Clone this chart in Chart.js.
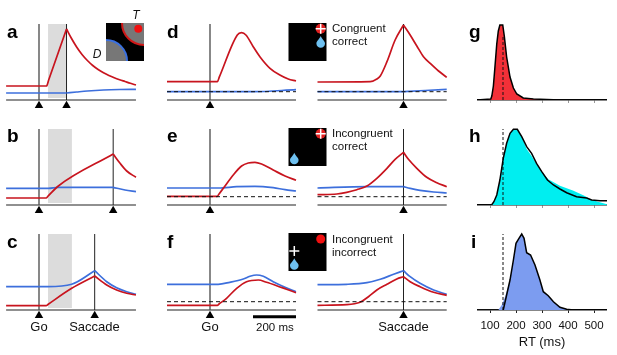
<!DOCTYPE html>
<html>
<head>
<meta charset="utf-8">
<title>Reaction time panels</title>
<script src="https://cdn.jsdelivr.net/npm/chart.js@4"></script>
<style>
  html, body { margin: 0; padding: 0; background: #fff; }
  #fig { position: relative; width: 617px; height: 355px; overflow: hidden; font-family: "Liberation Sans", Arial, sans-serif; color: #111; }
  #fig canvas { position: absolute; }
  #fig svg { position: absolute; left: 0; top: 0; }
  .t { position: absolute; white-space: nowrap; line-height: 14px; }
  .p { font-weight: bold; font-size: 19px; line-height: 20px; color: #000; }
  .s { font-size: 11.5px; }
  .m { font-size: 13px; transform: translateX(-50%); }
</style>
</head>
<body>
<div id="fig">
  <div class="t p" style="left:7px;top:22px">a</div>
  <div class="t p" style="left:7px;top:126px">b</div>
  <div class="t p" style="left:7px;top:232px">c</div>
  <div class="t p" style="left:167px;top:22px">d</div>
  <div class="t p" style="left:167px;top:126px">e</div>
  <div class="t p" style="left:167px;top:232px">f</div>
  <div class="t p" style="left:469px;top:22px">g</div>
  <div class="t p" style="left:469px;top:126px">h</div>
  <div class="t p" style="left:471px;top:232px">i</div>

  <div class="t m" style="left:136px;top:8px;font-style:italic;font-size:12px">T</div>
  <div class="t m" style="left:97px;top:47px;font-style:italic;font-size:12px">D</div>

  <div class="t s" style="left:332px;top:21px">Congruent</div>
  <div class="t s" style="left:332px;top:34px">correct</div>
  <div class="t s" style="left:332px;top:126px">Incongruent</div>
  <div class="t s" style="left:332px;top:139px">correct</div>
  <div class="t s" style="left:332px;top:232px">Incongruent</div>
  <div class="t s" style="left:332px;top:245px">incorrect</div>

  <div class="t m" style="left:39px;top:320px">Go</div>
  <div class="t m" style="left:94.500px;top:320px">Saccade</div>
  <div class="t m" style="left:210px;top:320px">Go</div>
  <div class="t m" style="left:403.500px;top:320px">Saccade</div>
  <div class="t s" style="left:256px;top:320px">200 ms</div>
  <div class="t m" style="left:542px;top:335px">RT (ms)</div>

  <svg width="617" height="355" xmlns="http://www.w3.org/2000/svg">
    <defs><clipPath id="insetA"><rect x="106" y="23" width="38" height="38"/></clipPath></defs>
    <rect x="106" y="23" width="38" height="38" fill="#000"/>
    <g clip-path="url(#insetA)">
      <circle cx="144" cy="23" r="22" fill="#777" stroke="#d01818" stroke-width="2"/>
      <circle cx="106" cy="61" r="21" fill="#777" stroke="#3a70e0" stroke-width="2"/>
    </g>
    <circle cx="138.300" cy="28.700" r="4" fill="#f01010"/>

    <rect x="288.500" y="23" width="38" height="38" fill="#000"/>
    <circle cx="320.700" cy="28.700" r="5" fill="#e02020"/>
    <path d="M315.700 28.700H325.700M320.700 23.700V33.700" stroke="#fff" stroke-width="1.500"/>
    <path d="M320.700 36C321.700 39 325 41 325 43.400A4.300 4.300 0 1 1 316.400 43.400C316.400 41 319.700 39 320.700 36Z" fill="#6ec0f0"/>

    <rect x="288.500" y="128" width="38" height="38" fill="#000"/>
    <circle cx="320.700" cy="133.700" r="5" fill="#e02020"/>
    <path d="M315.700 133.700H325.700M320.700 128.700V138.700" stroke="#fff" stroke-width="1.500"/>
    <path d="M294.300 152.700C295.300 155.700 298.600 157.700 298.600 160A4.300 4.300 0 1 1 290 160C290 157.700 293.300 155.700 294.300 152.700Z" fill="#6ec0f0"/>

    <rect x="288.500" y="233" width="38" height="38" fill="#000"/>
    <circle cx="320.700" cy="239" r="4.500" fill="#f01010"/>
    <path d="M289.300 251H299.300M294.300 246V256" stroke="#fff" stroke-width="1.500"/>
    <path d="M294.300 258.300C295.300 261.300 298.600 263.300 298.600 265.400A4.300 4.300 0 1 1 290 265.400C290 263.300 293.300 261.300 294.300 258.300Z" fill="#6ec0f0"/>
  </svg>
</div>

<script>
// time in ms from Go or saccade, activity in arbitrary units above the panel baseline
const aRedT = [-153, 35, 45, 128, 150, 175, 200, 225, 250, 275, 300, 325, 350, 375, 400, 425, 451];
const aRedV = [14, 14, 20, 71, 62, 53, 45.5, 39.5, 34.5, 30.5, 27.3, 24.6, 22.3, 20.3, 18.5, 16.7, 15];
const aBlueT = [-153, 128, 175, 225, 300, 375, 451];
const aBlueV = [7, 7, 8, 9, 10, 10.5, 10.7];
const aMarks = [0, 128];
const aGray = [42, 128];

const bRedT = [-153, 33, 43, 90, 345, 377, 408, 451];
const bRedV = [7, 7, 9.1, 19, 51, 41.7, 34, 27.7];
const bBlueT = [-153, 42, 90, 345, 400, 451];
const bBlueV = [16.7, 16.7, 17.7, 17.7, 15, 13.3];
const bMarks = [0, 345];
const bGray = [42, 153];

const cRedT = [-153, 33, 43, 152, 259, 315, 361, 408, 451];
const cRedV = [4.3, 4.3, 5.8, 21.7, 34, 25, 20, 16.7, 15];
const cBlueT = [-153, 42, 152, 259, 315, 361, 408, 451];
const cBlueV = [23.3, 23.3, 25.7, 39.3, 28.3, 22.3, 18.3, 15.7];
const cMarks = [0, 259];
const cGray = [42, 153];

const dGoRedT = [-200, 34, 44, 127, 147, 167, 201, 232, 279, 325, 364, 400];
const dGoRedV = [18.3, 18.3, 23.3, 65, 67.3, 65, 53.3, 43.3, 31.7, 25, 21, 19];
const dGoBlueT = [-200, 200, 400];
const dGoBlueV = [8.3, 8.3, 10.3];
const dSacRedT = [-400, -155, -124, -108, -77, -39, 0, 31, 62, 93, 124, 163, 201];
const dSacRedV = [18, 18.3, 21, 24, 38.3, 60, 75, 65, 54, 43.3, 36.7, 29, 22.7];
const dSacBlueT = [-400, 0, 201];
const dSacBlueV = [8.3, 8.3, 10.7];

const eGoRedT = [-200, 34, 42, 62, 108, 147, 178, 209, 240, 294, 349, 400];
const eGoRedV = [8.7, 8.7, 11, 16.7, 30, 39, 42, 42.7, 41, 35, 29, 24.7];
const eGoBlueT = [-200, 40, 124, 209, 294, 349, 400];
const eGoBlueV = [17, 17, 18.3, 18.7, 17.3, 15.3, 14];
const eSacRedT = [-400, -310, -264, -217, -170, -124, -77, -39, 0, 23, 62, 108, 155, 201];
const eSacRedV = [10.3, 11, 12.7, 15.3, 19, 26.7, 36.7, 45.7, 52.7, 45.7, 36.7, 27.7, 22.3, 18.3];
const eSacBlueT = [-400, -170, 0, 31, 77, 140, 201];
const eSacBlueV = [17, 18.3, 18.3, 16.7, 14.7, 13, 12];

const fGoRedT = [-200, 34, 42, 77, 124, 170, 225, 263, 310, 356, 400];
const fGoRedV = [4.7, 4.7, 6, 11.7, 21.7, 28.3, 30, 27.7, 24.3, 20.7, 17.3];
const fGoBlueT = [-200, 38, 92, 155, 186, 217, 248, 294, 349, 400];
const fGoBlueV = [25.7, 25.7, 27.7, 31, 33.7, 35, 33.7, 28.3, 22.7, 18.3];
const fSacRedT = [-400, -264, -202, -163, -124, -77, -31, 0, 31, 77, 140, 201];
const fSacRedV = [4.7, 5.3, 7.7, 13.3, 20, 25.7, 31, 33.3, 28.3, 23.3, 17.7, 14.7];
const fSacBlueT = [-400, -264, -170, -108, -46, 0, 31, 77, 140, 201];
const fSacBlueV = [25.3, 25.7, 27.3, 30.7, 35.7, 39.3, 33.3, 26.7, 20, 15.7];
const scaleBarT = [200, 400];

// RT distributions
const rtTicks = [100, 200, 300, 400, 500];
const gRt = [50, 103, 107, 113, 119, 126, 132, 138, 149, 155, 164, 177, 190, 203, 228, 267, 369, 550];
const gDensity = [0, 1, 4, 14, 33, 56, 69, 75, 75, 64, 43, 23, 12, 6, 2, 1, 0, 0];
const hRt = [50, 106, 115, 126, 138, 151, 164, 177, 190, 205, 222, 241, 260, 279, 299, 321, 344, 369, 395, 433, 472, 491, 523, 550];
const hDensity = [0, 0, 3.3, 10, 25, 46.7, 61.7, 71.7, 75.7, 75.7, 68.3, 58.3, 51.7, 41.7, 33.3, 25, 20, 16, 12.3, 8.3, 7, 5, 4.3, 4.3];
const hFillRt = [50, 106, 115, 126, 138, 151, 164, 177, 190, 205, 222, 241, 260, 279, 299, 324, 369, 421, 465, 491, 550];
const hFillDensity = [0, 0, 3.3, 10, 25, 46.7, 61.7, 71.7, 75.7, 75.7, 68.3, 56, 49, 40.7, 33.3, 25.7, 19.3, 14.3, 9, 5, 0.7];
const iRt = [151, 164, 177, 190, 200, 209, 222, 231, 241, 256, 273, 292, 305, 324, 344, 369, 395, 420, 550];
const iDensity = [0, 15, 30, 50, 66.7, 70.7, 76, 71.7, 57.3, 55, 45, 30, 18.3, 14.3, 8.3, 2.7, 0.7, 0, 0];
const iFillRt = [132, 145, 158, 177, 190, 200, 209, 222, 231, 241, 256, 273, 292, 305, 324, 344, 369, 395, 420];
const iFillDensity = [0, 5, 13.3, 30, 50, 66.7, 70.7, 76, 71.7, 57.3, 55, 45, 30, 18.3, 14.3, 8.3, 2.7, 0.7, 0];

const RED = '#c8141e';
const BLUE = '#3d6fdc';
const MS_PER_PX = 200 / 43;
const fig = document.getElementById('fig');

const pts = (xs, ys) => xs.map((x, i) => ({x, y: ys[i]}));

function addCanvas(left, top, width, height) {
  const c = document.createElement('canvas');
  c.width = width;
  c.height = height;
  c.style.left = left + 'px';
  c.style.top = top + 'px';
  fig.insertBefore(c, fig.firstChild);
  return c;
}

const line = (data, color, width, extra) => Object.assign({
  data, borderColor: color, borderWidth: width, pointRadius: 0, tension: 0, fill: false
}, extra || {});

// a trace stays sharp at the saccade: it is cut there and each piece is smoothed on its own
function trace(ts, vs, marks, color) {
  const cuts = marks.map(m => ts.indexOf(m)).filter(i => i > 0);
  const edges = [0, ...cuts, ts.length - 1];
  const out = [];
  for (let k = 0; k < edges.length - 1; k++) {
    const piece = pts(ts, vs).slice(edges[k], edges[k + 1] + 1);
    out.push(line(piece, color, 1.7, {cubicInterpolationMode: 'monotone'}));
  }
  return out;
}

// one time-course panel; 1 y unit = 1 px
function tracePanel(o) {
  const left = o.from - 3, width = o.to - o.from + 6;
  const xMin = (left - o.zero) * MS_PER_PX;
  const xMax = (left + width - o.zero) * MS_PER_PX;
  const ds = [];
  ds.push(line(pts(o.marks, o.marks.map(() => -5.6)), '#000', 0, {
    showLine: false, pointStyle: 'triangle', pointRadius: 4.9, pointBackgroundColor: '#000', pointBorderWidth: 0
  }));
  if (o.dash != null) {
    ds.push(line(pts([o.redT[0], o.redT[o.redT.length - 1]], [o.dash, o.dash]), '#111', 1, {borderDash: [4, 3]}));
  }
  ds.push(...trace(o.redT, o.redV, o.marks, RED));
  ds.push(...trace(o.blueT, o.blueV, o.marks, BLUE));
  if (o.bar) ds.push(line(pts(o.bar, [-6.7, -6.7]), '#000', 3));
  o.marks.forEach((m, i) => {
    ds.push(line(pts([m, m], [0, 76]), o.goGray && i === 0 ? '#555' : '#222', o.goGray && i === 0 ? 1.4 : 1));
  });
  ds.push(line(pts([o.redT[0], o.redT[o.redT.length - 1]], [0, 0]), '#222', 1.2));
  if (o.gray) {
    ds.push(line(pts(o.gray, [76, 76]), 'rgba(0,0,0,0)', 0, {backgroundColor: '#dcdcdc', fill: {value: 2}}));
  }
  new Chart(addCanvas(left, o.base - 78, width, 90), {
    type: 'line',
    data: {datasets: ds},
    options: {
      responsive: false, animation: false, devicePixelRatio: 1,
      layout: {padding: 0, autoPadding: false},
      plugins: {legend: {display: false}, tooltip: {enabled: false}},
      scales: {
        x: {type: 'linear', display: false, min: xMin, max: xMax},
        y: {display: false, min: -12, max: 78}
      }
    }
  });
}

// one RT distribution
function rtPanel(o) {
  const ds = [];
  ds.push(line(pts(o.rt, o.density), '#000', 1.5));
  ds.push(line(pts([150, 150], [0, o.dashTop]), '#111', 1, {borderDash: [3, 2]}));
  ds.push(line(pts(o.fillRt, o.fillDensity), 'rgba(0,0,0,0)', 0, {backgroundColor: o.color, fill: 'origin'}));
  const below = o.labels ? 26 : 8;
  new Chart(addCanvas(477, o.base - 78, 130, 78 + below), {
    type: 'line',
    data: {datasets: ds},
    options: {
      responsive: false, animation: false, devicePixelRatio: 1,
      layout: {padding: 0, autoPadding: false},
      plugins: {legend: {display: false}, tooltip: {enabled: false}},
      scales: {
        x: {
          type: 'linear', min: 50, max: 550,
          afterFit: s => { s.height = below; s.paddingLeft = 0; s.paddingRight = 0; },
          afterBuildTicks: s => { s.ticks = rtTicks.map(value => ({value})); },
          border: {color: '#111', width: 1.5},
          grid: {drawOnChartArea: false, drawTicks: true, tickLength: 3, tickColor: o.labels ? '#222' : '#999', tickWidth: 1},
          ticks: {
            display: !!o.labels, maxRotation: 0, padding: 6, color: '#111',
            font: {family: '"Liberation Sans"', size: 11.5}
          }
        },
        y: {display: false, min: 0, max: 78}
      }
    }
  });
}

tracePanel({from: 6, to: 136, zero: 39, base: 100, redT: aRedT, redV: aRedV, blueT: aBlueT, blueV: aBlueV, marks: aMarks, gray: aGray, goGray: true});
tracePanel({from: 6, to: 136, zero: 39, base: 205, redT: bRedT, redV: bRedV, blueT: bBlueT, blueV: bBlueV, marks: bMarks, gray: bGray, goGray: true});
tracePanel({from: 6, to: 136, zero: 39, base: 310, redT: cRedT, redV: cRedV, blueT: cBlueT, blueV: cBlueV, marks: cMarks, gray: cGray, goGray: true});

tracePanel({from: 167, to: 296, zero: 210, base: 100, redT: dGoRedT, redV: dGoRedV, blueT: dGoBlueT, blueV: dGoBlueV, marks: [0], dash: 8.3, goGray: true});
tracePanel({from: 317, to: 447, zero: 403.5, base: 100, redT: dSacRedT, redV: dSacRedV, blueT: dSacBlueT, blueV: dSacBlueV, marks: [0], dash: 8.3});
tracePanel({from: 167, to: 296, zero: 210, base: 205, redT: eGoRedT, redV: eGoRedV, blueT: eGoBlueT, blueV: eGoBlueV, marks: [0], dash: 8.3, goGray: true});
tracePanel({from: 317, to: 447, zero: 403.5, base: 205, redT: eSacRedT, redV: eSacRedV, blueT: eSacBlueT, blueV: eSacBlueV, marks: [0], dash: 8.3});
tracePanel({from: 167, to: 296, zero: 210, base: 310, redT: fGoRedT, redV: fGoRedV, blueT: fGoBlueT, blueV: fGoBlueV, marks: [0], dash: 8.3, goGray: true, bar: scaleBarT});
tracePanel({from: 317, to: 447, zero: 403.5, base: 310, redT: fSacRedT, redV: fSacRedV, blueT: fSacBlueT, blueV: fSacBlueV, marks: [0], dash: 8.3});

rtPanel({base: 100, rt: gRt, density: gDensity, fillRt: gRt, fillDensity: gDensity, color: '#f23038', dashTop: 65});
rtPanel({base: 205, rt: hRt, density: hDensity, fillRt: hFillRt, fillDensity: hFillDensity, color: '#00eef0', dashTop: 76});
rtPanel({base: 310, rt: iRt, density: iDensity, fillRt: iFillRt, fillDensity: iFillDensity, color: '#7c9cf0', dashTop: 76, labels: true});
</script>
</body>
</html>
